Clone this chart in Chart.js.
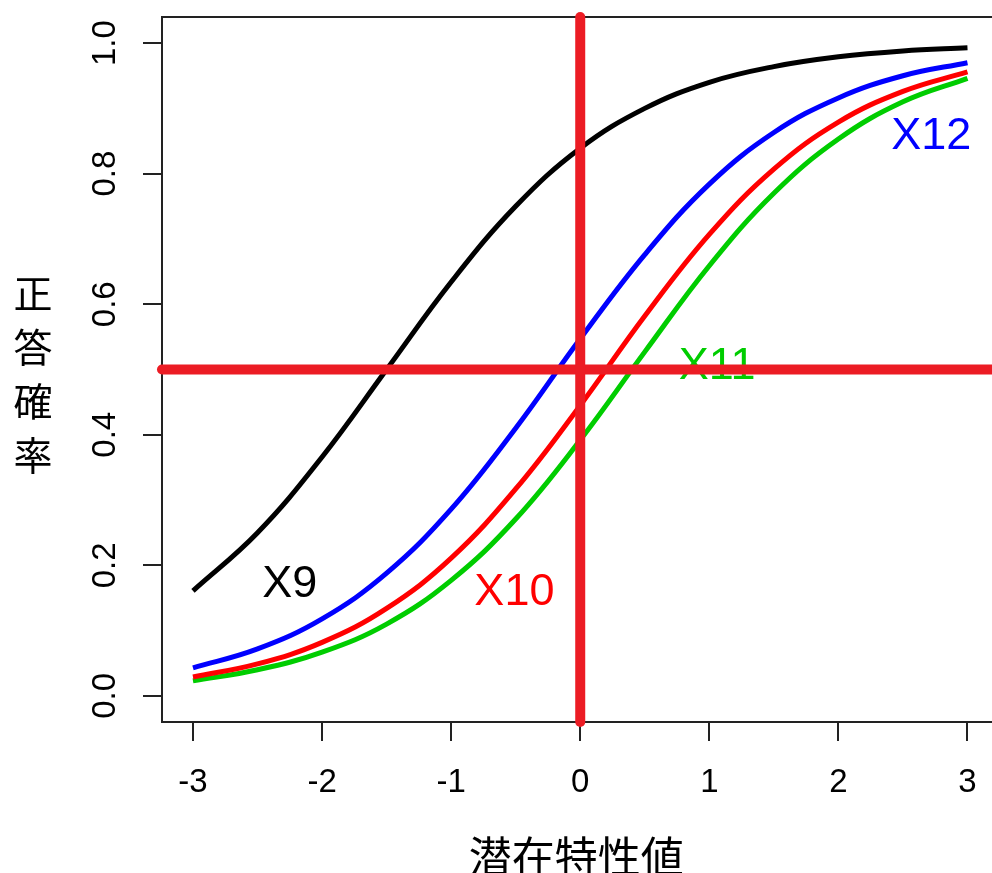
<!DOCTYPE html>
<html>
<head>
<meta charset="utf-8">
<script src="https://cdn.jsdelivr.net/npm/chart.js@4.4.1/dist/chart.umd.min.js"></script>
<style>
  html, body { margin: 0; padding: 0; background: #fff; overflow: hidden; }
  #wrap { width: 992px; height: 873px; position: relative; }
</style>
</head>
<body>
<div id="wrap"><canvas id="iccChart"></canvas></div>
<script>
// theta values (latent trait)
const theta = [-3, -2.5, -2, -1.5, -1, -0.5, 0, 0.5, 1, 1.5, 2, 2.5, 3];

// probability of correct answer
const x9  = [0.161, 0.250, 0.366, 0.500, 0.634, 0.750, 0.839, 0.900, 0.940, 0.964, 0.979, 0.988, 0.993];
const x10 = [0.029, 0.049, 0.082, 0.134, 0.211, 0.317, 0.445, 0.582, 0.707, 0.807, 0.879, 0.926, 0.956];
const x11 = [0.023, 0.040, 0.067, 0.110, 0.177, 0.271, 0.392, 0.527, 0.659, 0.770, 0.853, 0.910, 0.946];
const x12 = [0.043, 0.072, 0.118, 0.188, 0.286, 0.410, 0.547, 0.676, 0.784, 0.863, 0.916, 0.950, 0.970];

const seriesNames = ['X9', 'X10', 'X11', 'X12'];
const seriesColors = ['#000000', '#FF0000', '#00CD00', '#0000FF'];

// where the item names sit (data units)
const labelX = [-2.25, -0.51, 1.06, 2.72];
const labelY = [0.171, 0.158, 0.505, 0.857];

// tick labels
const xTicks = [-3, -2, -1, 0, 1, 2, 3];
const xTickLabels = ['-3', '-2', '-1', '0', '1', '2', '3'];
const yTicks = [0, 0.2, 0.4, 0.6, 0.8, 1.0];
const yTickLabels = ['0.0', '0.2', '0.4', '0.6', '0.8', '1.0'];

// reference lines
const refTheta = 0;
const refProb = 0.5;

const xTitle = '潜在特性値';
const yTitle = '正答確率';

const tickFont = { family: "'Liberation Sans', Arial, sans-serif", size: 33 };

function toPoints(vals) {
  return theta.map((t, i) => ({ x: t, y: vals[i] }));
}

const allSeries = [x9, x10, x11, x12];

// box, item labels, reference lines, axis titles
const decorPlugin = {
  id: 'decor',
  beforeDatasetsDraw(chart) {
    const ctx = chart.ctx;
    const a = chart.chartArea;
    ctx.save();
    ctx.strokeStyle = '#222';
    ctx.lineWidth = 2;
    ctx.beginPath();
    ctx.moveTo(chart.width + 5, a.top);
    ctx.lineTo(a.left, a.top);
    ctx.lineTo(a.left, a.bottom);
    ctx.lineTo(chart.width + 5, a.bottom);
    ctx.stroke();
    ctx.restore();
  },
  afterDatasetsDraw(chart) {
    const ctx = chart.ctx;
    const a = chart.chartArea;
    const xs = chart.scales.x;
    const ys = chart.scales.y;
    ctx.save();

    // item names
    ctx.font = "45px 'Liberation Sans', Arial, sans-serif";
    ctx.textAlign = 'center';
    ctx.textBaseline = 'middle';
    seriesNames.forEach((name, i) => {
      ctx.fillStyle = seriesColors[i];
      ctx.fillText(name, xs.getPixelForValue(labelX[i]), ys.getPixelForValue(labelY[i]));
    });

    // red reference lines
    ctx.strokeStyle = '#EC1C24';
    ctx.lineWidth = 10;
    ctx.lineCap = 'round';
    const px = xs.getPixelForValue(refTheta);
    const py = ys.getPixelForValue(refProb);
    ctx.beginPath();
    ctx.moveTo(a.left, py);
    ctx.lineTo(chart.width + 10, py);
    ctx.stroke();
    ctx.beginPath();
    ctx.moveTo(px, a.top);
    ctx.lineTo(px, a.bottom);
    ctx.stroke();

    // axis titles
    ctx.fillStyle = '#000';
    ctx.font = "43px 'Noto Sans CJK JP', sans-serif";
    ctx.textAlign = 'center';
    ctx.textBaseline = 'middle';
    ctx.fillText(xTitle, xs.getPixelForValue(0) - 4, 857);
    ctx.font = "39px 'Noto Sans CJK JP', sans-serif";
    Array.from(yTitle).forEach((ch, i) => {
      ctx.fillText(ch, 33, 293 + i * 54);
    });
    ctx.restore();
  }
};

const ctx = document.getElementById('iccChart').getContext('2d');
const iccChart = new Chart(ctx, {
  type: 'line',
  data: {
    datasets: allSeries.map((vals, i) => ({
      label: seriesNames[i],
      data: toPoints(vals),
      borderColor: seriesColors[i],
      borderWidth: 5,
      pointRadius: 0,
      fill: false,
      tension: 0.4
    }))
  },
  options: {
    responsive: true,
    maintainAspectRatio: false,
    animation: false,
    layout: {
      padding: { top: 17, left: 0, right: 0, bottom: 0 }
    },
    plugins: {
      legend: { display: false },
      tooltip: { enabled: false }
    },
    scales: {
      x: {
        type: 'linear',
        min: -3.24,
        max: 3.19,
        border: { display: false },
        grid: {
          display: true,
          drawOnChartArea: false,
          drawTicks: true,
          tickLength: 19,
          color: '#222',
          lineWidth: 2
        },
        ticks: {
          font: tickFont,
          color: '#000',
          padding: 22,
          maxRotation: 0,
          autoSkip: false,
          callback: (v, i) => xTickLabels[i]
        },
        afterBuildTicks: s => { s.ticks = xTicks.map(v => ({ value: v })); },
        afterFit: s => {
          s.height = 151;
          s.paddingLeft = 0;
          s.paddingRight = 0;
        }
      },
      y: {
        type: 'linear',
        min: -0.04,
        max: 1.04,
        border: { display: false },
        grid: {
          display: true,
          drawOnChartArea: false,
          drawTicks: true,
          tickLength: 19,
          color: '#222',
          lineWidth: 2
        },
        ticks: {
          font: tickFont,
          color: '#000',
          padding: 14,
          minRotation: 90,
          maxRotation: 90,
          crossAlign: 'center',
          autoSkip: false,
          callback: (v, i) => yTickLabels[i]
        },
        afterBuildTicks: s => { s.ticks = yTicks.map(v => ({ value: v })); },
        afterFit: s => {
          s.width = 162;
          s.paddingTop = 0;
          s.paddingBottom = 0;
        }
      }
    }
  },
  plugins: [decorPlugin]
});
</script>
</body>
</html>
